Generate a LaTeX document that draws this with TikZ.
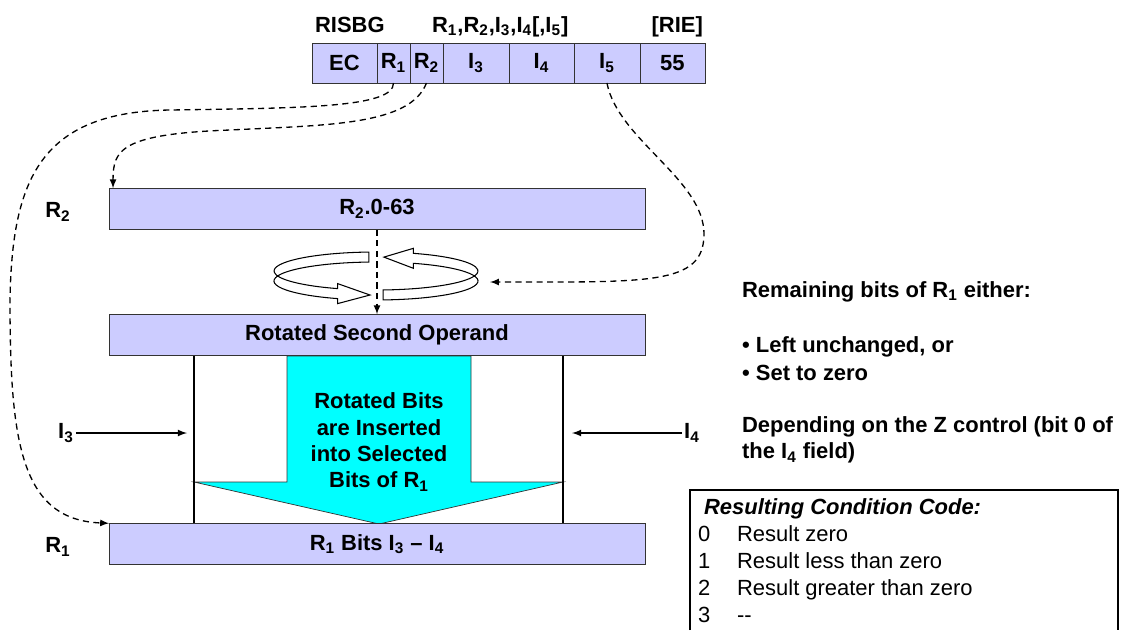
\documentclass[tikz,border=0pt]{standalone}
\usepackage{fontspec}
\setmainfont{Liberation Sans}
\usepackage{tikz}
\newcommand{\subs}[1]{\textsubscript{#1}}
\definecolor{aqua}{RGB}{0,255,255}
\definecolor{lavender}{RGB}{204,204,255}

\begin{document}
\begin{tikzpicture}[x=0.02cm, y=-0.02cm]
\tikzstyle{every node} = [font=\fontsize{12.5}{15}\selectfont\bfseries, inner sep=1pt]
\tikzstyle{field} = [draw=black!80, fill=lavender, minimum height=0.8cm, outer sep=0pt, anchor=west]
\tikzstyle{bar} = [draw=black!80, fill=lavender, minimum width=10.72cm, minimum height=0.83cm, outer sep=0pt]
\tikzstyle{link} = [dash pattern=on 3.5pt off 2.5pt, line width=0.75pt, -latex]
\tikzstyle{wall} = [line width=1.3pt]
\tikzstyle{ring} = [fill=white, draw=black, line width=0.6pt]
\tikzstyle{plain} = [font=\fontsize{12.5}{15}\selectfont, anchor=base west]
\useasboundingbox (0,0) rectangle (1121,630);

% instruction format
\node[anchor=base west] (mnem) at (313,32) {RISBG};
\node[anchor=base west] (ops) at (430,32) {R\subs1,R\subs2,I\subs3,I\subs4[,I\subs5]};
\node[anchor=base east] (fmt) at (705,32) {[RIE]};
\node[field, minimum width=1.3cm] (ec) at (312,63) {EC};
\node[field, minimum width=0.66cm] (r1f) at (ec.east) {R\subs1};
\node[field, minimum width=0.66cm] (r2f) at (r1f.east) {R\subs2};
\node[field, minimum width=1.32cm] (i3f) at (r2f.east) {I\subs3};
\node[field, minimum width=1.3cm] (i4f) at (i3f.east) {I\subs4};
\node[field, minimum width=1.32cm] (i5f) at (i4f.east) {I\subs5};
\node[field, minimum width=1.3cm] (opf) at (i5f.east) {55};

% inserted bits
\filldraw[fill=aqua, draw=black!80] (287,356) -- (287,482) -- (194,482) -- (379,524)
  -- (563,482) -- (471,482) -- (471,356) -- cycle;
\node[align=center] (ins) at (379,442) {Rotated Bits\\are Inserted\\into Selected\\Bits of R\subs1};

% registers
\node[bar] (r2bar) at (377,209) {R\subs2.0-63};
\node[bar] (rot) at (377,335) {Rotated Second Operand};
\node[bar] (r1bar) at (377,544) {R\subs1 Bits I\subs3 – I\subs4};
\node (r2lab) at (58,212) {R\subs2};
\node (r1lab) at (58,547) {R\subs1};

\draw[wall] ([xshift=1.7cm]rot.south west) -- ([xshift=1.7cm]r1bar.north west);
\draw[wall] ([xshift=-1.64cm]rot.south east) -- ([xshift=-1.64cm]r1bar.north east);

\node (i3) at (66,433) {I\subs3};
\node (i4) at (692,433) {I\subs4};
\coordinate (i3in) at (187,433);
\coordinate (i4in) at (572,433);
\draw[-latex, line width=0.8pt] (i3) -- (i3in);
\draw[-latex, line width=0.8pt] (i4) -- (i4in);

% rotation
\begin{scope}[shift={(376,276)}, y=0.02cm]
\filldraw[ring] (-7.05,23.96) arc[start angle=94, end angle=247.9, x radius=102, y radius=19]
  -- (-38.4,-7.6) -- (-6,-19) -- (-38.4,-27.6) -- (-38.4,-22.6)
  arc[start angle=247.9, end angle=94, x radius=102, y radius=19] -- cycle;
\filldraw[ring] (7.05,-13.96) arc[start angle=274, end angle=428.5, x radius=102, y radius=19]
  -- (37.4,27.7) -- (7.9,18.9) -- (37.4,7.7) -- (37.4,12.7)
  arc[start angle=428.5, end angle=274, x radius=102, y radius=19] -- cycle;
\end{scope}
\coordinate (spin) at (490,282);

\draw[link] (r2bar.south) -- (rot.north);
\draw[link] (r1f.south) .. controls (394,108) and (300,108) .. (170,110)
  .. controls (40,112) and (12,180) .. (10,300)
  .. controls (10,440) and (20,520) .. (r1bar.north west);
\draw[link] (r2f.south) .. controls (410,125) and (330,125) .. (230,130)
  .. controls (120,134) and (113,150) .. ([xshift=0.08cm]r2bar.north west);
\draw[link] (i5f.south) .. controls (618,140) and (705,180) .. (704,235)
  .. controls (703,285) and (650,282) .. (spin);

% notes
\node[anchor=west] (rem) at (740,292) {Remaining bits of R\subs1 either:};
\node[anchor=west] (opt1) at (740,347) {• Left unchanged, or};
\node[anchor=west] (opt2) at (740,373) {• Set to zero};
\node[anchor=west, align=left] (dep) at (740,440) {Depending on the Z control (bit 0 of\\the I\subs4 field)};

% condition code
\draw[line width=0.6pt] (690,630) -- (690,490) -- (1118,490) -- (1118,630);
\node[anchor=base west, font=\fontsize{12.5}{15}\selectfont\bfseries\itshape] (cchead) at (702,514) {Resulting Condition Code:};
\foreach \cc/\txt [count=\i] in {0/Result zero, 1/Result less than zero, 2/Result greater than zero, 3/-\kern0pt-}
  {\node[plain] (cc\cc) at (696,514+27*\i) {\cc};
   \node[plain] (cctxt\cc) at (735,514+27*\i) {\txt};}
\end{tikzpicture}
\end{document}
